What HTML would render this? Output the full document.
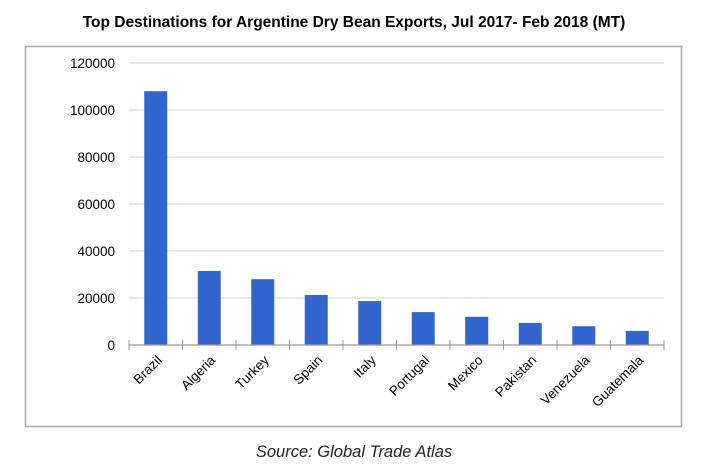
<!DOCTYPE html>
<html><head><meta charset="utf-8"><style>
body{margin:0;background:#fff;width:705px;height:466px;overflow:hidden;font-family:"Liberation Sans",sans-serif}
</style></head><body>
<svg width="705" height="466">
<text x="354" y="27" text-anchor="middle" font-size="15.5" font-weight="bold" fill="#000">Top Destinations for Argentine Dry Bean Exports, Jul 2017- Feb 2018 (MT)</text>
<rect x="25.5" y="46.5" width="656" height="380" fill="#fff" stroke="#aaa" stroke-width="1.5"/>
<g id="grid"></g><g id="bars"></g><g id="axis"></g>
<text x="354" y="457" text-anchor="middle" font-size="16.5" font-style="italic" fill="#222">Source: Global Trade Atlas</text>
</svg>
<script>
const categories=["Brazil","Algeria","Turkey","Spain","Italy","Portugal","Mexico","Pakistan","Venezuela","Guatemala"];
const values=[108000,31500,28000,21300,18700,14000,12000,9400,8000,6000];
const yTicks=[0,20000,40000,60000,80000,100000,120000];
const NS="http://www.w3.org/2000/svg";
const x0=129,x1=664,y0=345,y1=63,ymax=120000;
const step=(x1-x0)/categories.length;
const y=v=>y0-(v/ymax)*(y0-y1);
const xc=i=>x0+step*(i+0.5);
function mk(t,a,p){const e=document.createElementNS(NS,t);for(const k in a)e.setAttribute(k,a[k]);document.getElementById(p).appendChild(e);return e;}
yTicks.forEach(t=>{
 if(t>0){const l=mk('line',{x1:x0,x2:x1,y1:y(t),y2:y(t),stroke:'#d9d9d9','stroke-width':1.2},'grid');
 
 }
 const tx=mk('text',{x:115,y:y(t)+5,'text-anchor':'end','font-size':13.5,fill:'#000'},'axis');tx.textContent=t;
 
 
});
values.forEach((v,i)=>{
 const r=mk('rect',{x:xc(i)-11.5,y:y(v),width:23,height:y0-y(v),fill:'#3366cc'},'bars');
 
 
 const tx=mk('text',{x:xc(i)+7,y:y0+16,'text-anchor':'end','font-size':13.5,fill:'#000',transform:`rotate(-45 ${xc(i)+7} ${y0+16})`},'axis');
 tx.textContent=categories[i];
 
 
});
const ax=mk('line',{x1:x0,x2:x1,y1:y0,y2:y0,stroke:'#999','stroke-width':1.2},'axis');


for(let i=0;i<=categories.length;i++){
 const tk=mk('line',{x1:x0+step*i,x2:x0+step*i,y1:y0-5,y2:y0+5,stroke:'#999','stroke-width':1},'axis');
 
 
}
</script>
</body></html>
